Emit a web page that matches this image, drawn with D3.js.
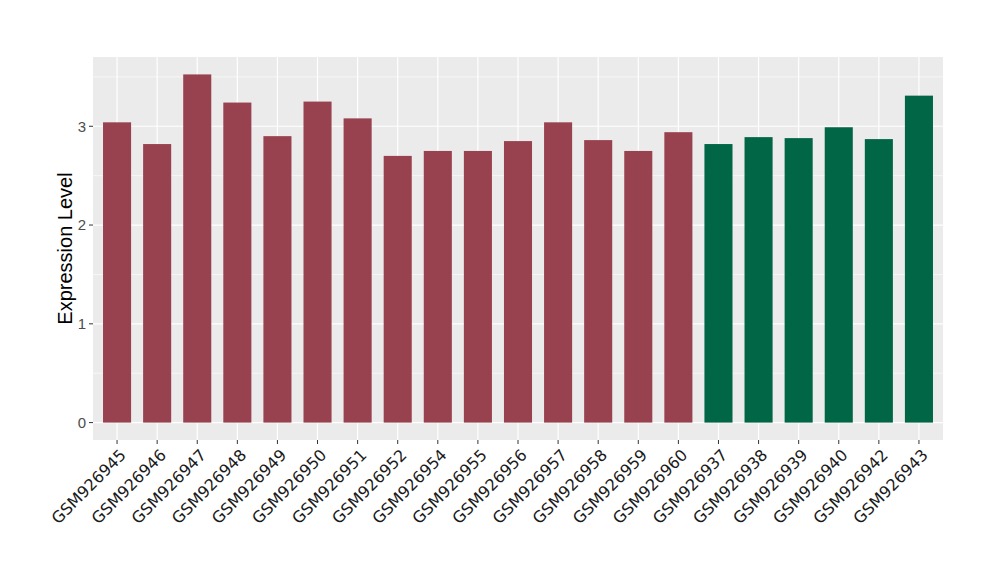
<!DOCTYPE html>
<html><head><meta charset="utf-8">
<script src="https://cdn.jsdelivr.net/npm/d3@7"></script>
<style>body{margin:0;background:#fff;} text{font-family:"DejaVu Sans",sans-serif;}</style>
</head><body>
<svg id="chart" width="1000" height="580"></svg>
<script>
const categories = ["GSM926945","GSM926946","GSM926947","GSM926948","GSM926949","GSM926950","GSM926951","GSM926952","GSM926954","GSM926955","GSM926956","GSM926957","GSM926958","GSM926959","GSM926960","GSM926937","GSM926938","GSM926939","GSM926940","GSM926942","GSM926943"];
const values = [3.04,2.82,3.525,3.24,2.90,3.25,3.08,2.70,2.75,2.75,2.85,3.04,2.86,2.75,2.94,2.82,2.89,2.88,2.99,2.87,3.31];
const groups = ["A","A","A","A","A","A","A","A","A","A","A","A","A","A","A","B","B","B","B","B","B"];
const yTicks = [0,1,2,3];
const groupColors = {A:"#99424f", B:"#006645"};

const svg = d3.select("#chart");
const L = 93, R = 943, T = 57, B = 440;
// ggplot-like discrete scale: expansion 0.6 units each side, bar width 0.7
const x = d3.scalePoint().domain(categories).range([L, R]).padding(0.6);
const step = x.step();
const bw = step * 0.7;
const ymax = d3.max(values);
const y = d3.scaleLinear().domain([-0.05 * ymax, ymax * 1.05]).range([B, T]);

svg.append("rect").attr("x", L).attr("y", T).attr("width", R - L).attr("height", B - T).attr("fill", "#ebebeb");
const minor = [0.5,1.5,2.5,3.5];
svg.selectAll(".ming").data(minor).enter().append("line")
  .attr("x1", L).attr("x2", R).attr("y1", d => y(d)).attr("y2", d => y(d))
  .attr("stroke", "#fff").attr("stroke-width", 0.6);
svg.selectAll(".majg").data(yTicks).enter().append("line")
  .attr("x1", L).attr("x2", R).attr("y1", d => y(d)).attr("y2", d => y(d))
  .attr("stroke", "#fff").attr("stroke-width", 1.2);
svg.selectAll(".xg").data(categories).enter().append("line")
  .attr("x1", d => x(d)).attr("x2", d => x(d)).attr("y1", T).attr("y2", B)
  .attr("stroke", "#fff").attr("stroke-width", 1.2);

svg.selectAll(".bar").data(categories).enter().append("rect")
  .attr("x", d => x(d) - bw / 2).attr("width", bw)
  .attr("y", (d, i) => y(values[i])).attr("height", (d, i) => y(0) - y(values[i]))
  .attr("fill", (d, i) => groupColors[groups[i]]);

svg.selectAll(".yt").data(yTicks).enter().append("line")
  .attr("x1", L - 4).attr("x2", L).attr("y1", d => y(d)).attr("y2", d => y(d))
  .attr("stroke", "#333").attr("stroke-width", 1);
svg.selectAll(".yl").data(yTicks).enter().append("text")
  .attr("x", L - 7).attr("y", d => y(d)).attr("dy", "0.36em")
  .attr("text-anchor", "end").attr("font-size", 15).attr("fill", "#4d4d4d")
  .style("font-family", "'Liberation Sans', Arial, sans-serif").text(d => d);

svg.selectAll(".xt").data(categories).enter().append("line")
  .attr("x1", d => x(d)).attr("x2", d => x(d)).attr("y1", B).attr("y2", B + 4)
  .attr("stroke", "#333").attr("stroke-width", 1);
svg.selectAll(".xl").data(categories).enter().append("text")
  .attr("transform", d => `translate(${x(d) + 10},${B + 16}) rotate(-45)`)
  .attr("text-anchor", "end").attr("font-size", 16).attr("fill", "#1a1a1a").text(d => d);

svg.append("text").attr("transform", `translate(72,${(T + B) / 2}) rotate(-90)`)
  .attr("text-anchor", "middle").attr("font-size", 20).attr("fill", "#000")
  .style("font-family", "'Liberation Sans', Arial, sans-serif").text("Expression Level");
</script>
</body></html>
